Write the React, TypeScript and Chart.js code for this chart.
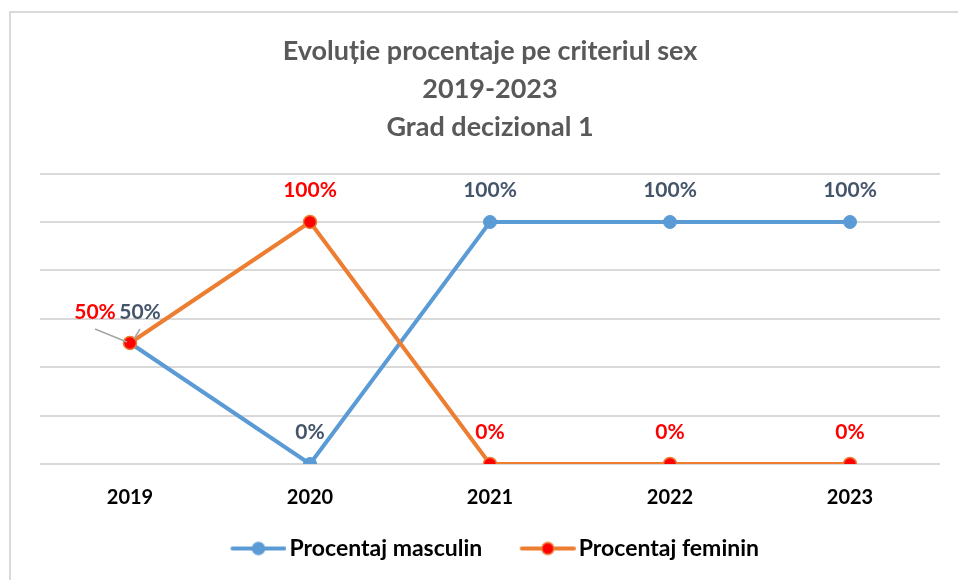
import React, { useEffect, useRef } from 'react';
import { Chart, registerables } from 'chart.js';

Chart.register(...registerables);

const categories = ['2019', '2020', '2021', '2022', '2023'];
const masculin = [50, 0, 100, 100, 100];
const feminin = [50, 100, 0, 0, 0];
const seriesNames = ['Procentaj masculin', 'Procentaj feminin'];
const titleLines = ['Evoluție procentaje pe criteriul sex', '2019-2023', 'Grad decizional 1'];
const yMin = 0;
const yMax = 120;
const yStep = 20;

const BLUE = '#5b9bd5';
const ORANGE = '#ed7d31';
const RED = '#ff0000';
const FONT = 'Lato, "Open Sans", sans-serif';

const LABEL_COLORS = ['#44546a', RED];
// label placement overrides (dataset -> point index) with leader lines
const LABEL_SPECIAL: Record<number, Record<number, any>> = {
  0: { 0: { dx: 10, dy: -31, lx: 10, ly: -14, ex: 4, ey: -4 } },
  1: { 0: { dx: -35, dy: -31, lx: -35, ly: -14, ex: -3, ey: -1 } },
};

// legend icon: transparent canvas whose visible glyph (line + marker, 56px) sits at its right end
const ICON_W = 95;
function makeIcon(lineColor: string, fill: string, border: string) {
  const c = document.createElement('canvas');
  c.width = ICON_W;
  c.height = 16;
  const ctx = c.getContext('2d')!;
  const x0 = ICON_W - 56;
  ctx.strokeStyle = lineColor;
  ctx.lineWidth = 4;
  ctx.lineCap = 'round';
  ctx.beginPath();
  ctx.moveTo(x0 + 2, 8);
  ctx.lineTo(x0 + 54, 8);
  ctx.stroke();
  ctx.beginPath();
  ctx.arc(x0 + 28, 8, 6, 0, Math.PI * 2);
  ctx.fillStyle = fill;
  ctx.fill();
  ctx.lineWidth = 1.5;
  ctx.strokeStyle = border;
  ctx.stroke();
  return c;
}

const framePlugin = {
  id: 'frame',
  beforeDraw(chart: any) {
    const { ctx, width, height } = chart;
    ctx.save();
    ctx.fillStyle = '#ffffff';
    ctx.fillRect(0, 0, width, height);
    ctx.strokeStyle = '#d9d9d9';
    ctx.lineWidth = 2;
    ctx.beginPath();
    ctx.moveTo(10, height);
    ctx.lineTo(10, 12);
    ctx.lineTo(width, 12);
    ctx.stroke();
    ctx.restore();
  },
};

const legendShiftPlugin = {
  id: 'legendShift',
  afterLayout(chart: any) {
    if (chart.legend) chart.legend.left -= 21;
  },
};

const labelsPlugin = {
  id: 'valueLabels',
  afterDatasetsDraw(chart: any) {
    const { ctx } = chart;
    ctx.save();
    ctx.font = `bold 21px ${FONT}`;
    ctx.textAlign = 'center';
    ctx.textBaseline = 'middle';
    chart.data.datasets.forEach((ds: any, di: number) => {
      const meta = chart.getDatasetMeta(di);
      const color = LABEL_COLORS[di];
      meta.data.forEach((pt: any, i: number) => {
        const v = ds.data[i];
        let dx = 0;
        let dy = -32;
        const special = LABEL_SPECIAL[di] ? LABEL_SPECIAL[di][i] : undefined;
        if (special) {
          dx = special.dx;
          dy = special.dy;
          ctx.strokeStyle = '#a6a6a6';
          ctx.lineWidth = 1.5;
          ctx.beginPath();
          ctx.moveTo(pt.x + special.lx, pt.y + special.ly);
          ctx.lineTo(pt.x + special.ex, pt.y + special.ey);
          ctx.stroke();
        }
        ctx.fillStyle = color;
        ctx.fillText(`${v}%`, pt.x + dx, pt.y + dy);
      });
    });
    ctx.restore();
  },
};

export default function App() {
  const ref = useRef<HTMLCanvasElement>(null);
  useEffect(() => {
    if (!ref.current) return;
    const icons = [makeIcon(BLUE, BLUE, BLUE), makeIcon(ORANGE, RED, ORANGE)];
    const chart = new Chart(ref.current, {
      type: 'line',
      data: {
        labels: categories,
        datasets: [
          {
            label: seriesNames[0],
            data: masculin,
            borderColor: BLUE,
            backgroundColor: BLUE,
            pointBackgroundColor: BLUE,
            pointBorderColor: BLUE,
            borderWidth: 4,
            pointRadius: 6.5,
            pointBorderWidth: 1,
            order: 1,
          },
          {
            label: seriesNames[1],
            data: feminin,
            borderColor: ORANGE,
            backgroundColor: RED,
            pointBackgroundColor: RED,
            pointBorderColor: ORANGE,
            borderWidth: 4,
            pointRadius: 6.5,
            pointBorderWidth: 1.5,
            order: 0,
          },
        ],
      },
      options: {
        responsive: false,
        animation: false,
        layout: { padding: { left: 40, right: 18, top: 0, bottom: 10 } },
        scales: {
          x: {
            offset: true,
            grid: { display: false, drawTicks: false },
            border: { display: false },
            ticks: {
              color: '#000000',
              padding: 22,
              font: { family: FONT, size: 20, weight: 'bold' },
            },
            afterFit: (s: any) => {
              s.height = 66;
            },
          },
          y: {
            min: yMin,
            max: yMax,
            ticks: { display: false, stepSize: yStep },
            grid: { color: '#d9d9d9', lineWidth: 2, drawTicks: false },
            border: { display: false },
          },
        },
        plugins: {
          title: {
            display: true,
            text: titleLines,
            color: '#595959',
            font: { family: FONT, size: 27, weight: 'bold', lineHeight: 1.39 },
            padding: { top: 33, bottom: 28 },
          },
          legend: {
            position: 'bottom',
            labels: {
              usePointStyle: true,
              pointStyleWidth: 78,
              padding: 7,
              color: '#000000',
              font: { family: FONT, size: 23, weight: 'bold' },
              generateLabels: (c: any) => {
                const items = Chart.defaults.plugins.legend.labels.generateLabels(c);
                items.sort((a: any, b: any) => a.datasetIndex - b.datasetIndex);
                items.forEach((it: any) => {
                  it.pointStyle = icons[it.datasetIndex];
                });
                return items;
              },
            },
          },
          tooltip: { enabled: false },
        },
      },
      plugins: [framePlugin, legendShiftPlugin, labelsPlugin],
    });
    return () => chart.destroy();
  }, []);
  return (
    <div style={{ position: 'absolute', left: 0, top: 0, width: 958, height: 580 }}>
      <canvas ref={ref} width={958} height={580} style={{ display: 'block' }} />
    </div>
  );
}
